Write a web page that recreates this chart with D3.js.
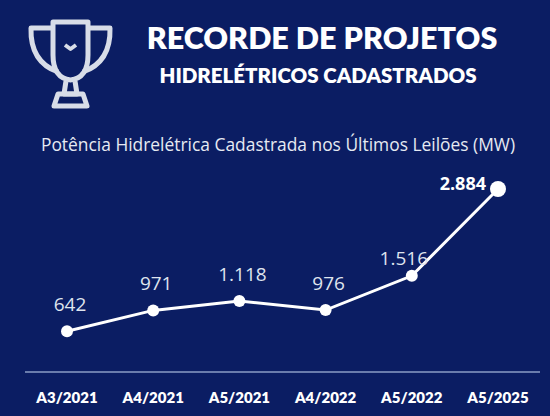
<!DOCTYPE html><html><head><meta charset="utf-8"><script src="https://cdn.jsdelivr.net/npm/d3@7"></script>
<style>body{margin:0;background:#0b1d63}svg{display:block}</style></head><body><svg width="550" height="416"></svg>
<script>
const categories=["A3/2021","A4/2021","A5/2021","A4/2022","A5/2022","A5/2025"];
const values=[642,971,1118,976,1516,2884];
const labels=["642","971","1.118","976","1.516","2.884"];
const svg=d3.select("svg");
const bg="#0b1d63";
svg.append("rect").attr("width",550).attr("height",416).attr("fill",bg);
const x=d3.scalePoint().domain(categories).range([67,498]);
const y=d3.scaleLinear().domain([0,2884]).range([372,189]);
const f="Lato, 'Open Sans', sans-serif";
const t=svg.append("g").attr("fill","none").attr("stroke","#d8dde8").attr("stroke-width",5).attr("stroke-linejoin","round");
t.append("path").attr("d","M53,22 H88 V55 Q88,78 70.5,80 Q53,78 53,55 Z");
t.append("path").attr("d","M53,28 H31 Q30,62 58,72");
t.append("path").attr("d","M88,28 H110 Q111,62 83,72");
t.append("path").attr("d","M66,81 L64,94 H77 L75,81");
t.append("path").attr("d","M54,106 L58,94 H83 L87,106 Z");
t.append("path").attr("d","M65,45 L70.5,49 L76,45").attr("stroke-width",4);
svg.append("text").attr("x",322).attr("y",49).attr("text-anchor","middle").attr("fill","#fff").attr("font-family",f).attr("font-weight",800).attr("font-size",30.5).text("RECORDE DE PROJETOS");
svg.append("text").attr("x",318).attr("y",83).attr("text-anchor","middle").attr("fill","#fff").attr("font-family",f).attr("font-weight",800).attr("font-size",20.5).text("HIDRELÉTRICOS CADASTRADOS");
svg.append("text").attr("x",278).attr("y",151).attr("text-anchor","middle").attr("fill","#e6eaf2").attr("font-family","'Open Sans', sans-serif").attr("font-size",17.4).text("Potência Hidrelétrica Cadastrada nos Últimos Leilões (MW)");
svg.append("line").attr("x1",25).attr("x2",540).attr("y1",372).attr("y2",372).attr("stroke","#8b9cc4").attr("stroke-width",1.5);
svg.append("path").datum(values).attr("fill","none").attr("stroke","#fff").attr("stroke-width",3)
 .attr("d",d3.line().x((d,i)=>x(categories[i])).y(d=>y(d)));
svg.selectAll("circle").data(values).join("circle").attr("cx",(d,i)=>x(categories[i])).attr("cy",d=>y(d)).attr("r",(d,i)=>i==5?8:6).attr("fill","#fff");
svg.selectAll(".v").data(values).join("text").attr("fill",(d,i)=>i==5?"#fff":"#dfe4ee").attr("font-family","'Open Sans', sans-serif").attr("font-size",(d,i)=>i==5?18:19)
 .attr("font-weight",(d,i)=>i==5?700:400).attr("text-anchor",(d,i)=>i==5?"end":"middle")
 .attr("x",(d,i)=>i==5?x(categories[i])-12:i==4?x(categories[i])-8:x(categories[i])+3).attr("y",(d,i)=>y(d)-(i==5?-1:i==4?11:20)).text((d,i)=>labels[i]);
svg.selectAll(".c").data(categories).join("text").attr("x",d=>x(d)).attr("y",403).attr("text-anchor","middle").attr("fill","#fff").attr("font-family",f).attr("font-weight",800).attr("font-size",15).text(d=>d);
</script></body></html>
